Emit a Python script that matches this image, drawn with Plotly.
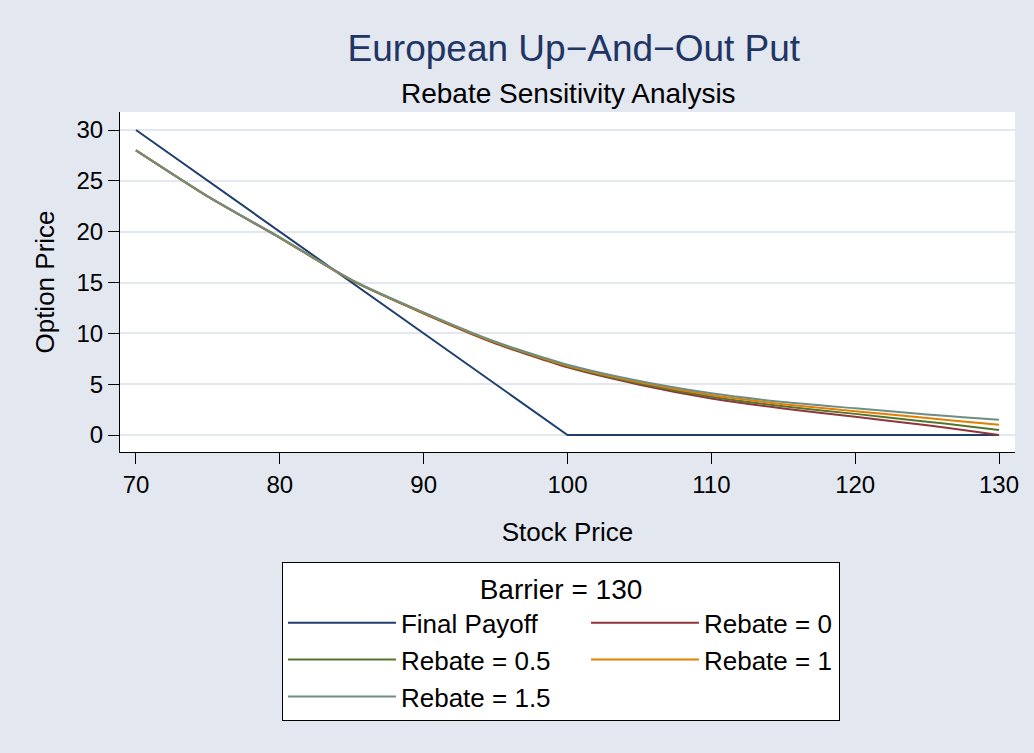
import plotly.graph_objects as go

# stock price grid
stock = [70, 75, 80, 85, 90, 95, 100, 105, 110, 115, 120, 125, 127.5, 130]

# final payoff of the put, strike 100
payoff_x = [70, 100, 130]
payoff_y = [30, 0, 0]

# option prices for each rebate level
rebate_0 = [28.0, 23.45, 19.4, 15.2, 11.95, 9.0, 6.65, 4.95, 3.6, 2.6, 1.8, 0.95, 0.5, 0.0]
rebate_05 = [28.0, 23.46, 19.41, 15.22, 11.99, 9.06, 6.74, 5.07, 3.77, 2.82, 2.08, 1.31, 0.92, 0.5]
rebate_1 = [28.01, 23.46, 19.42, 15.24, 12.02, 9.11, 6.82, 5.19, 3.93, 3.03, 2.35, 1.67, 1.34, 1.0]
rebate_15 = [28.01, 23.47, 19.43, 15.26, 12.06, 9.17, 6.91, 5.31, 4.1, 3.25, 2.63, 2.03, 1.76, 1.5]

# (name, values, colour, legend entry width) - left column entries are wider
series = [
    ("Rebate = 0", rebate_0, "#90353b", 130),
    ("Rebate = 0.5", rebate_05, "#55752f", 180),
    ("Rebate = 1", rebate_1, "#e37e00", 130),
    ("Rebate = 1.5", rebate_15, "#6e8e84", 180),
]

FONT = "Liberation Sans, Arial, sans-serif"

fig = go.Figure()
fig.add_trace(go.Scatter(x=payoff_x, y=payoff_y, mode="lines", name="Final Payoff",
                         line=dict(color="#1f3d6e", width=2), legendwidth=180))
for name, vals, col, lw in series:
    fig.add_trace(go.Scatter(x=stock, y=vals, mode="lines", name=name, legendwidth=lw,
                             line=dict(color=col, width=2, shape="spline", smoothing=0.6)))

fig.update_layout(
    width=1034, height=753,
    paper_bgcolor="#e2e7f0",
    plot_bgcolor="white",
    margin=dict(l=120, r=19, t=112, b=301),
    font=dict(family=FONT, size=24, color="black"),
    title=dict(text="European Up\u2212And\u2212Out Put", x=0.555, xanchor="center",
               y=1 - 48 / 753, yanchor="middle",
               font=dict(size=37, color="#1f3563", family=FONT)),
    annotations=[dict(text="Rebate Sensitivity Analysis", xref="paper", yref="paper",
                      x=0.5006, y=(452 - 93) / 340, xanchor="center", yanchor="middle",
                      showarrow=False, font=dict(size=28, color="black", family=FONT))],
    showlegend=True,
    legend=dict(
        orientation="h", x=0.4927, xanchor="center", y=-0.3235, yanchor="top",
        bgcolor="white", bordercolor="black", borderwidth=1,
        itemwidth=108,
        font=dict(size=26, family=FONT),
        title=dict(text="Barrier = 130", side="top center", font=dict(size=28, family=FONT)),
        traceorder="normal",
    ),
)

fig.update_xaxes(
    range=[68.89, 131.11], tickvals=[70, 80, 90, 100, 110, 120, 130],
    showgrid=False, zeroline=False,
    showline=True, linecolor="black", linewidth=1,
    ticks="outside", ticklen=11, tickcolor="black",
    tickfont=dict(size=24),
    title=dict(text="Stock Price", standoff=26, font=dict(size=26)),
)
fig.update_yaxes(
    range=[-1.67, 31.77], tickvals=[0, 5, 10, 15, 20, 25, 30],
    showgrid=True, gridcolor="#e2e7f0", gridwidth=2, zeroline=False,
    showline=True, linecolor="black", linewidth=1,
    ticks="outside", ticklen=11, tickcolor="black",
    tickfont=dict(size=24),
    title=dict(text="Option Price", standoff=14, font=dict(size=26)),
)

fig.write_html("out.html", config={"displayModeBar": False},
               post_script="document.body.style.margin='0';")
